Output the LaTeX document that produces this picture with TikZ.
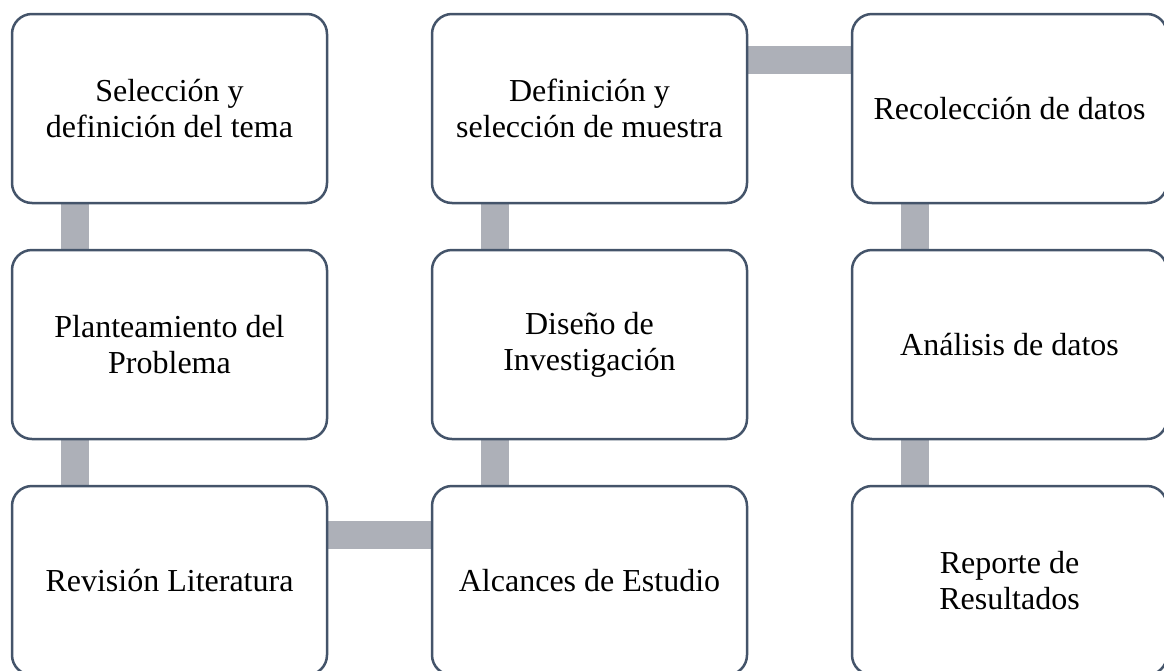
\documentclass[tikz,border=0pt]{standalone}
\usepackage{fontspec}
\setmainfont{Liberation Serif}
\usetikzlibrary{positioning,backgrounds}
\definecolor{borde}{HTML}{44546A}
\definecolor{barra}{HTML}{ADB0B8}
\begin{document}
\begin{tikzpicture}[x=1pt,y=1pt,
    paso/.style={draw=borde, line width=2.5pt, rounded corners=20pt, fill=white,
      minimum width=315pt, minimum height=189pt, inner sep=0pt, outer sep=0pt,
      align=center, font=\fontsize{32}{36}\selectfont},
    enlace/.style={draw=barra, line width=28pt}]
    \useasboundingbox (0,0) rectangle (1164,-670);
    \node[paso] (sel) at (169.5,-108.5) {Selección y\\definición del tema};
    \node[paso, below=47pt of sel] (plan) {Planteamiento del\\Problema};
    \node[paso, below=47pt of plan] (rev) {Revisión Literatura};
    \node[paso, right=105pt of rev] (alc) {Alcances de Estudio};
    \node[paso, above=47pt of alc] (dis) {Diseño de\\Investigación};
    \node[paso, above=47pt of dis] (def) {Definición y\\selección de muestra};
    \node[paso, right=105pt of def] (rec) {Recolección de datos};
    \node[paso, below=47pt of rec] (ana) {Análisis de datos};
    \node[paso, below=47pt of ana] (rep) {Reporte de\\Resultados};
    \begin{scope}[on background layer]
    \draw[enlace] ([xshift=63pt]sel.south west) -- ([xshift=63pt]plan.north west);
    \draw[enlace] ([xshift=63pt]plan.south west) -- ([xshift=63pt]rev.north west);
    \draw[enlace] ([yshift=-49pt]rev.north east) -- ([yshift=-49pt]alc.north west);
    \draw[enlace] ([xshift=63pt]alc.north west) -- ([xshift=63pt]dis.south west);
    \draw[enlace] ([xshift=63pt]dis.north west) -- ([xshift=63pt]def.south west);
    \draw[enlace] ([yshift=-46pt]def.north east) -- ([yshift=-46pt]rec.north west);
    \draw[enlace] ([xshift=63pt]rec.south west) -- ([xshift=63pt]ana.north west);
    \draw[enlace] ([xshift=63pt]ana.south west) -- ([xshift=63pt]rep.north west);
    \end{scope}
\end{tikzpicture}
\end{document}
